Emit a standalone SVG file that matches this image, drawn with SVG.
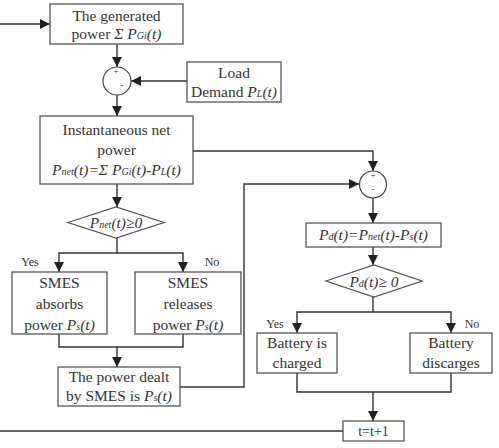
<svg xmlns="http://www.w3.org/2000/svg" width="499" height="448" viewBox="0 0 499 448" font-family="Liberation Serif, Times New Roman, Tinos, Noto Serif, DejaVu Serif, FreeSerif, serif">
  <defs>
    <marker id="arrow" viewBox="0 0 10 10" refX="10" refY="5" markerWidth="10" markerHeight="10" markerUnits="userSpaceOnUse" orient="auto">
      <path d="M0,0 L10,5 L0,10 z" fill="#222"/>
    </marker>
    <style>
      .box { fill: #fff; stroke: #555; stroke-width: 1.3; }
      .sum { fill: #fff; stroke: #444; stroke-width: 1.2; }
      .wire { fill: none; stroke: #333; stroke-width: 1.4; }
      .arr { marker-end: url(#arrow); }
      text { font-size: 15.5px; fill: #333; text-anchor: middle; }
      .it { font-style: italic; }
      .sub { font-size: 10px; font-style: italic; }
      .sign { font-size: 9px; }
      .lbl { font-size: 12px; }
    </style>
  </defs>

  <!-- connectors -->
  <g id="connectors">
    <line class="wire arr" x1="0" y1="24" x2="50" y2="24"/>
    <line class="wire arr" x1="117" y1="44" x2="117" y2="67"/>
    <line class="wire arr" x1="187" y1="81" x2="131" y2="81"/>
    <line class="wire arr" x1="117" y1="95" x2="117" y2="116"/>
    <line class="wire arr" x1="117" y1="184" x2="117" y2="207"/>
    <polyline class="wire" points="117,238 117,253"/>
    <polyline class="wire arr" points="117,253 59,253 59,272"/>
    <polyline class="wire arr" points="117,253 183,253 183,272"/>
    <polyline class="wire" points="59,334 59,347 183,347 183,334"/>
    <line class="wire arr" x1="117" y1="347" x2="117" y2="367"/>
    <polyline class="wire arr" points="193,151 373,151 373,171"/>
    <polyline class="wire arr" points="180,387 244,387 244,184 359,184"/>
    <line class="wire arr" x1="373" y1="198" x2="373" y2="223"/>
    <line class="wire arr" x1="373" y1="247" x2="373" y2="265"/>
    <polyline class="wire" points="373,297 373,312"/>
    <polyline class="wire arr" points="373,312 297,312 297,333"/>
    <polyline class="wire arr" points="373,312 451,312 451,333"/>
    <polyline class="wire" points="297,373 297,392 451,392 451,373"/>
    <line class="wire arr" x1="373" y1="392" x2="373" y2="421"/>
    <line class="wire" x1="343" y1="431" x2="0" y2="431"/>
  </g>

  <g id="generated">
    <rect class="box" x="50" y="4" width="133" height="40"/>
    <text x="116.5" y="21">The generated</text>
    <text x="116.5" y="39">power <tspan class="it">Σ P</tspan><tspan class="sub">Gi</tspan><tspan class="it">(t)</tspan></text>
  </g>

  <g id="sum1">
    <circle class="sum" cx="117" cy="81" r="14"/>
    <text class="sign" x="116" y="74">+</text>
    <text class="sign" x="122" y="88">-</text>
  </g>

  <g id="load">
    <rect class="box" x="187" y="62" width="94" height="40"/>
    <text x="234" y="78">Load</text>
    <text x="234" y="97">Demand <tspan class="it">P</tspan><tspan class="sub">L</tspan><tspan class="it">(t)</tspan></text>
  </g>

  <g id="net">
    <rect class="box" x="40" y="116" width="153" height="68"/>
    <text x="116.5" y="135">Instantaneous net</text>
    <text x="116.5" y="155">power</text>
    <text x="116.5" y="175" class="it">P<tspan class="sub">net</tspan>(t)=Σ P<tspan class="sub">Gi</tspan>(t)-P<tspan class="sub">L</tspan>(t)</text>
  </g>

  <g id="check-net">
    <polygon class="box" points="68,222.5 116,207 164,222.5 116,238"/>
    <text x="116" y="228" class="it">P<tspan class="sub">net</tspan>(t)≥0</text>
  </g>

  <text class="lbl" x="30" y="266">Yes</text>
  <text class="lbl" x="212" y="266">No</text>

  <g id="absorb">
    <rect class="box" x="12" y="272" width="95" height="62"/>
    <text x="59.5" y="288">SMES</text>
    <text x="59.5" y="309">absorbs</text>
    <text x="59.5" y="330">power <tspan class="it">P</tspan><tspan class="sub">s</tspan><tspan class="it">(t)</tspan></text>
  </g>

  <g id="release">
    <rect class="box" x="135" y="272" width="106" height="62"/>
    <text x="188" y="288">SMES</text>
    <text x="188" y="309">releases</text>
    <text x="188" y="330">power <tspan class="it">P</tspan><tspan class="sub">s</tspan><tspan class="it">(t)</tspan></text>
  </g>

  <g id="dealt">
    <rect class="box" x="58" y="367" width="122" height="39"/>
    <text x="119" y="382">The power dealt</text>
    <text x="119" y="401">by SMES is <tspan class="it">P</tspan><tspan class="sub">s</tspan><tspan class="it">(t)</tspan></text>
  </g>

  <g id="sum2">
    <circle class="sum" cx="373" cy="184.5" r="13.5"/>
    <text class="sign" x="373" y="178">+</text>
    <text class="sign" x="373" y="192">-</text>
  </g>

  <g id="pd">
    <rect class="box" x="306" y="223" width="135" height="24"/>
    <text x="373.5" y="240" class="it">P<tspan class="sub">d</tspan>(t)=P<tspan class="sub">net</tspan>(t)-P<tspan class="sub">s</tspan>(t)</text>
  </g>

  <g id="check-pd">
    <polygon class="box" points="326,281 374,265 422,281 374,297"/>
    <text x="374" y="287" class="it">P<tspan class="sub">d</tspan>(t)≥ 0</text>
  </g>

  <text class="lbl" x="275" y="328">Yes</text>
  <text class="lbl" x="472" y="328">No</text>

  <g id="charged">
    <rect class="box" x="257" y="333" width="80" height="40"/>
    <text x="297" y="348">Battery is</text>
    <text x="297" y="368">charged</text>
  </g>

  <g id="discharge">
    <rect class="box" x="410" y="333" width="82" height="40"/>
    <text x="451" y="348">Battery</text>
    <text x="451" y="368">discarges</text>
  </g>

  <g id="step">
    <rect class="box" x="343" y="421" width="61" height="20"/>
    <text x="373.5" y="436" style="font-size:14px">t=t+1</text>
  </g>
</svg>
